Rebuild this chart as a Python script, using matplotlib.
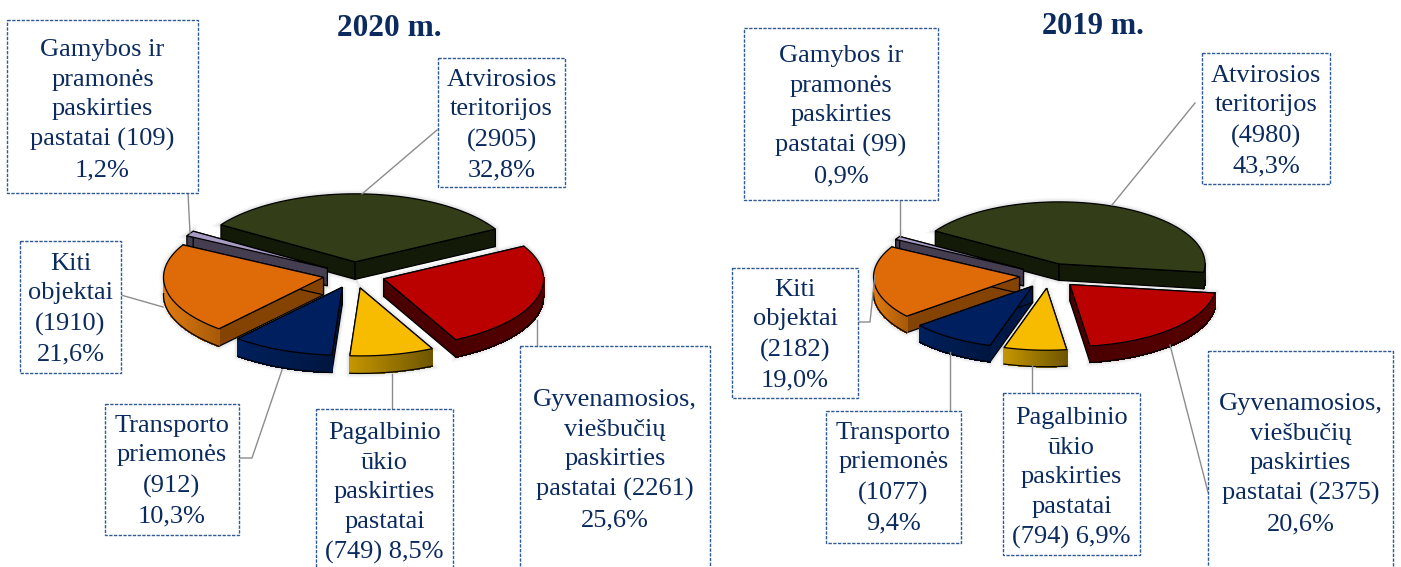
#!/usr/bin/python
# -*- coding: utf-8 -*-
import numpy as np
import matplotlib
matplotlib.use('Agg')
import matplotlib.pyplot as plt
from matplotlib.colors import to_rgb
from matplotlib.patches import Rectangle

plt.rcParams['font.family'] = ['Liberation Serif', 'DejaVu Serif']

# data, clockwise from the first slice
values_2020 = [2905, 2261, 749, 912, 1910, 109]
values_2019 = [4980, 2375, 794, 1077, 2182, 99]

labels_2020 = [
    'Atvirosios\nteritorijos\n(2905)\n32,8%',
    'Gyvenamosios,\nviešbučių\npaskirties\npastatai (2261)\n25,6%',
    'Pagalbinio\nūkio\npaskirties\npastatai\n(749) 8,5%',
    'Transporto\npriemonės\n(912)\n10,3%',
    'Kiti\nobjektai\n(1910)\n21,6%',
    'Gamybos ir\npramonės\npaskirties\npastatai (109)\n1,2%',
]
labels_2019 = [
    'Atvirosios\nteritorijos\n(4980)\n43,3%',
    'Gyvenamosios,\nviešbučių\npaskirties\npastatai (2375)\n20,6%',
    'Pagalbinio\nūkio\npaskirties\npastatai\n(794) 6,9%',
    'Transporto\npriemonės\n(1077)\n9,4%',
    'Kiti\nobjektai\n(2182)\n19,0%',
    'Gamybos ir\npramonės\npaskirties\npastatai (99)\n0,9%',
]

# top colour, flat side colour, rim colour left, rim colour right
slice_colors = [
    ('#333d18', '#141a08', '#141a08', '#141a08'),
    ('#bb0000', '#4a0000', '#4a0000', '#560000'),
    ('#f7bb00', '#8a6a00', '#c49500', '#6e5500'),
    ('#001f5f', '#001845', '#00205c', '#001640'),
    ('#df6a08', '#854303', '#e07a10', '#a85a08'),
    ('#a89cc4', '#453d50', '#453d50', '#453d50'),
]

TEXT_COLOR = '#0b2a5e'
BOX_COLOR = '#2f5a96'
LEADER_COLOR = '#8c8c8c'

# box x0, y0, x1, y1 in pixels
boxes_2020 = [(438, 58, 565, 187), (520, 346, 710, 580), (316, 409, 453, 580),
              (105, 404, 239, 535), (20, 241, 121, 373), (7, 20, 198, 193)]
boxes_2019 = [(1202, 53, 1330, 184), (1208, 351, 1393, 580), (1003, 393, 1140, 555),
              (826, 411, 961, 543), (732, 268, 858, 398), (744, 28, 938, 200)]
text_y_2020 = [125, 460, 493, 471, 309, 110]
text_y_2019 = [121, 464, 478, 478, 335, 116]

leaders_2020 = [[(437, 130), (362, 194)], [(537, 346), (537, 320)], [(392, 409), (392, 374)],
                [(239, 458), (252, 458), (282, 370)], [(121, 295), (163, 307)], [(188, 193), (190, 233)]]
leaders_2019 = [[(1195, 103), (1112, 205)], [(1208, 492), (1170, 345)], [(1032, 393), (1032, 365)],
                [(950, 411), (950, 352)], [(858, 322), (870, 322), (875, 275)], [(900, 200), (900, 236)]]


def mix(c1, c2, t):
    return tuple((1 - t) * a + t * b for a, b in zip(to_rgb(c1), to_rgb(c2)))


def draw_pie(ax, values, cx, cy, rx, ry, depth, explode, start):
    values = np.array(values, dtype=float)
    sweeps = values / values.sum() * 360
    ends = start - np.cumsum(sweeps)
    starts = ends + sweeps
    # back slices first: green, purple, orange, red, navy, yellow
    for i in [0, 5, 4, 1, 3, 2]:
        a0, a1 = starts[i], ends[i]
        mid = np.radians((a0 + a1) / 2)
        ox = cx + explode * np.cos(mid)
        oy = cy - explode * ry / rx * np.sin(mid)
        t = np.radians(np.linspace(a0, a1, 80))
        xs = ox + rx * np.cos(t)
        ys = oy - ry * np.sin(t)
        top, side, rim0, rim1 = slice_colors[i]

        # soft shadow
        sil_x = np.r_[ox, xs, xs[::-1], ox]
        sil_y = np.r_[oy, ys, ys[::-1] + depth, oy + depth]
        for lw, al in [(6, 0.03), (4, 0.05), (2, 0.06)]:
            ax.fill(sil_x, sil_y, color='#303030', alpha=al, lw=lw, zorder=2)

        # flat cut faces
        for ex, ey in [(xs[0], ys[0]), (xs[-1], ys[-1])]:
            ax.fill([ox, ex, ex, ox], [oy, ey, ey + depth, oy + depth],
                    facecolor=side, edgecolor='black', lw=0.9, zorder=3)

        # rim, only the front part shows
        front = np.where(np.sin(t) < 0.02)[0]
        if len(front) > 1:
            for j, k in zip(front[:-1], front[1:]):
                c = mix(rim0, rim1, (xs[j] - xs[front].min()) / (xs[front].max() - xs[front].min()))
                ax.fill([xs[j], xs[k], xs[k], xs[j]], [ys[j], ys[k], ys[k] + depth, ys[j] + depth],
                        facecolor=c, edgecolor=c, lw=0.6, antialiased=False, zorder=3)
            ax.plot(xs[front], ys[front] + depth, color='black', lw=0.9, zorder=3)

        ax.fill(np.r_[ox, xs], np.r_[oy, ys], facecolor=top, edgecolor='black',
                lw=0.9, joinstyle='miter', zorder=4)


def draw_labels(ax, labels, boxes, text_y, leaders):
    for leader in leaders:
        ax.plot([p[0] for p in leader], [p[1] for p in leader], color=LEADER_COLOR, lw=1.0, zorder=5)
    for label, (x0, y0, x1, y1), ty in zip(labels, boxes, text_y):
        ax.add_patch(Rectangle((x0, y0), x1 - x0, y1 - y0, facecolor='white', edgecolor=BOX_COLOR,
                               lw=1.0, ls=(0, (2.4, 1.0)), zorder=6))
        ax.text((x0 + x1) / 2, ty, label, color=TEXT_COLOR, fontsize=19, ha='center', va='center',
                linespacing=1.45, zorder=7, clip_on=True)


fig = plt.figure(figsize=(14.01, 5.67), dpi=100)
ax = fig.add_axes([0, 0, 1, 1])
ax.set_xlim(0, 1401)
ax.set_ylim(567, 0)
ax.axis('off')

draw_pie(ax, values_2020, 354, 275, 160, 68, 17.5, 31, 147)
draw_pie(ax, values_2019, 1049, 275.7, 146, 62, 16.5, 29.6, 148)
draw_labels(ax, labels_2020, boxes_2020, text_y_2020, leaders_2020)
draw_labels(ax, labels_2019, boxes_2019, text_y_2019, leaders_2019)

ax.text(389, 28, '2020 m.', color=TEXT_COLOR, fontsize=22.5, fontweight='bold', ha='center', va='center')
ax.text(1093, 26, '2019 m.', color=TEXT_COLOR, fontsize=22, fontweight='bold', ha='center', va='center')

fig.savefig('out.png', dpi=100)
plt.close(fig)
